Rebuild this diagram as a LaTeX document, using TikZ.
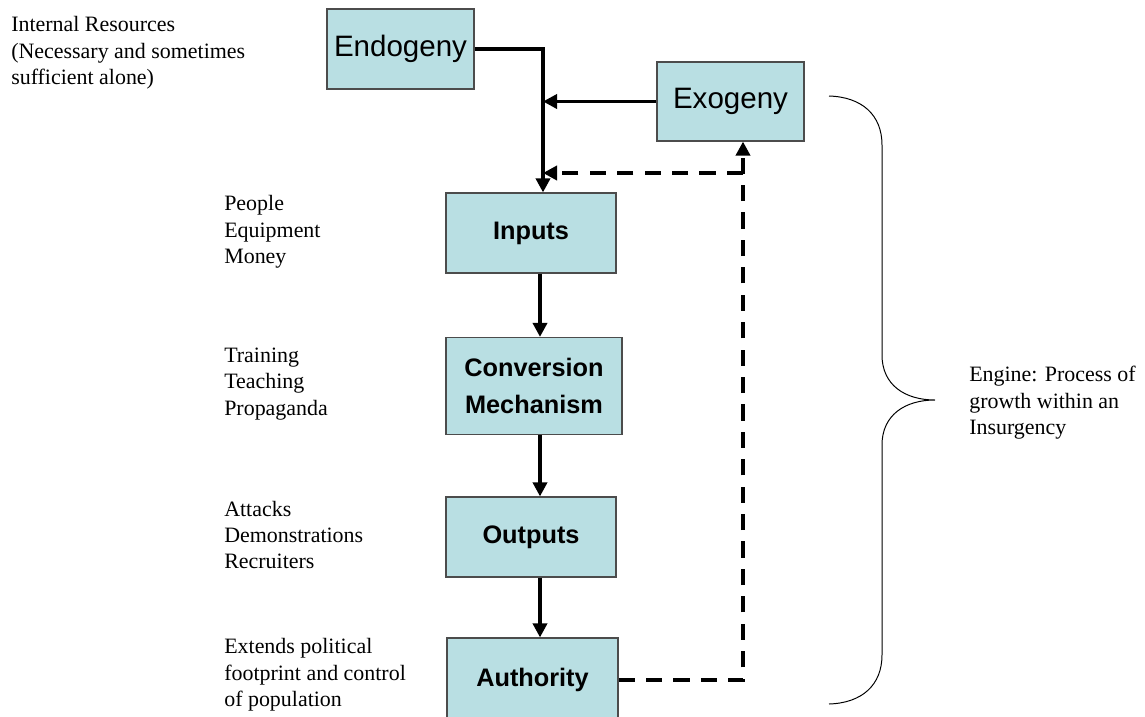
\documentclass[tikz,border=0pt]{standalone}
\usepackage{fontspec}
\setmainfont{Liberation Serif}
\setsansfont{Liberation Sans}
\usetikzlibrary{arrows.meta}
\definecolor{boxfill}{RGB}{185,223,227}

\begin{document}
\begin{tikzpicture}[x=0.025cm,y=-0.025cm,
    box/.style={draw=black!70,line width=0.8pt,fill=boxfill,inner sep=0pt,align=center,
      minimum width=3.675cm,minimum height=2cm,font=\sffamily\fontsize{21}{25}\selectfont},
    stage/.style={box,minimum width=4.25cm,font=\sffamily\bfseries\fontsize{18}{26}\selectfont},
    note/.style={anchor=west,align=left,inner sep=0pt,font=\fontsize{15.6}{18.8}\selectfont},
    flow/.style={line width=2.6pt,-{Triangle[length=10pt,width=10pt]}},
    feedback/.style={flow,dash pattern=on 11.5pt off 8pt}]
  \useasboundingbox (0,0) rectangle (1145,717);
  % Guide lines
  \coordinate (spine) at (543,0);
  \coordinate (drop) at (540,0);
  \coordinate (loop) at (743,173);
  % Boxes
  \node[box] (endo) at (400.5,49) {Endogeny};
  \node[box,minimum height=1.975cm] (exo) at (730.5,101.5) {Exogeny};
  \node[stage] (inputs) at (531,233) {Inputs};
  \node[stage,minimum width=4.4cm,minimum height=2.425cm] (conv) at (534,386) {Conversion\\Mechanism};
  \node[stage] (outputs) at (531,537) {Outputs};
  \node[stage,minimum width=4.275cm,minimum height=2.1cm] (auth) at (532.5,680) {Authority};
  % Side notes
  \node[note] (internal) at (11,53) {Internal Resources\\(Necessary and sometimes\\sufficient alone)};
  \node[note] (inlist) at (224,232) {People\\Equipment\\Money};
  \node[note] (convlist) at (224,384) {Training\\Teaching\\Propaganda};
  \node[note] (outlist) at (224,535) {Attacks\\Demonstrations\\Recruiters};
  \node[note] (authlist) at (224,675) {Extends political\\footprint and control\\of population};
  \node[note] (engine) at (969,403) {Engine: Process of\\growth within an\\Insurgency};
  % Arrows
  \draw[flow] (endo.east) -| (inputs.north -| spine);
  \draw[flow] (exo.west) -- (exo.west -| spine);
  \draw[flow] (inputs.south -| drop) -- (conv.north -| drop);
  \draw[flow] (conv.south -| drop) -- (outputs.north -| drop);
  \draw[flow] (outputs.south -| drop) -- (auth.north -| drop);
  % Feedback loop
  \draw[feedback] (auth.east) -| (exo.south -| loop);
  \draw[feedback] (loop) -- (loop -| spine);
  % Brace
  \draw[line width=0.7pt] (829,96) .. controls (862,97) and (882,115) .. (882,145) -- (882,355)
    .. controls (882,385) and (905,400) .. (935,400)
    .. controls (905,400) and (882,415) .. (882,445) -- (882,655)
    .. controls (882,685) and (862,703) .. (829,704);
\end{tikzpicture}
\end{document}
